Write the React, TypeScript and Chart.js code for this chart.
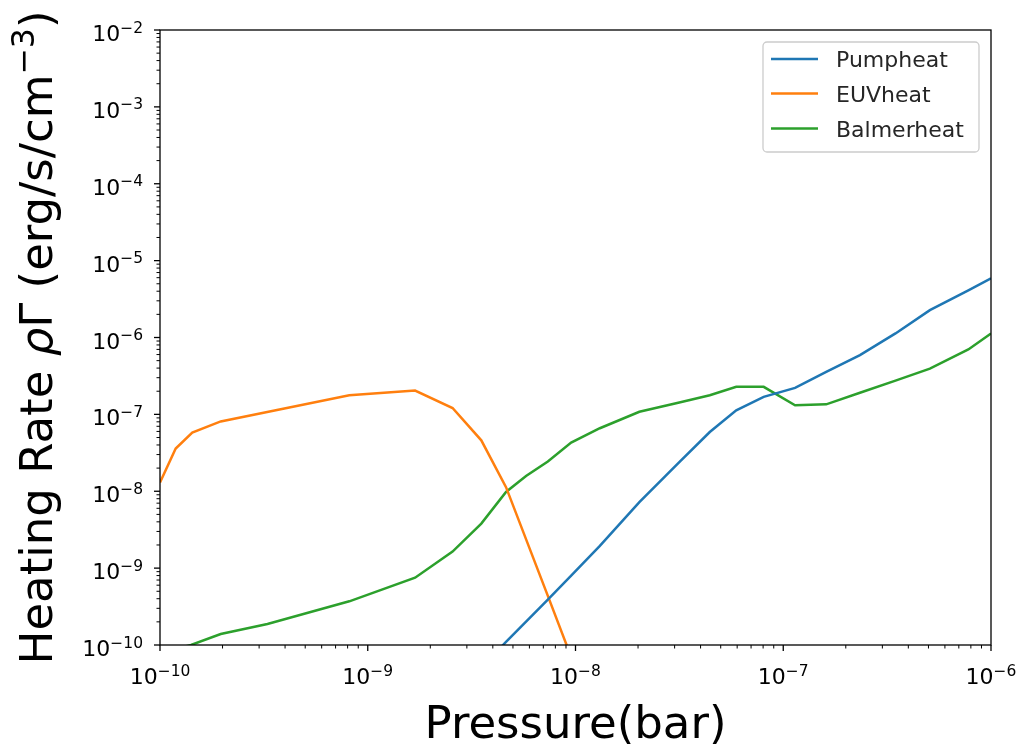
import React, { useEffect, useRef } from "react";
import { Chart, registerables } from "chart.js";

Chart.register(...registerables);

// ---- Data ----
const seriesLabels = ["Pumpheat", "EUVheat", "Balmerheat"];
const seriesColors = ["#1f77b4", "#ff7f0e", "#2ca02c"];

const pumpPressure = [3.52e-9, 4.63e-9, 7.36e-9, 9.53e-9, 1.31e-8, 2.03e-8, 3.16e-8, 4.43e-8, 5.94e-8, 8.05e-8, 1.14e-7, 1.61e-7, 2.34e-7, 3.47e-7, 5.08e-7, 7.78e-7, 1.0e-6];
const pumpHeat = [5.0e-11, 1.1e-10, 3.9e-10, 8.0e-10, 1.95e-9, 7.2e-9, 2.4e-8, 5.9e-8, 1.13e-7, 1.69e-7, 2.21e-7, 3.57e-7, 5.9e-7, 1.13e-6, 2.27e-6, 4.1e-6, 5.9e-6];

const euvPressure = [1.0e-10, 1.19e-10, 1.43e-10, 1.96e-10, 8.15e-10, 1.69e-9, 2.56e-9, 3.52e-9, 4.63e-9, 7.36e-9, 9.53e-9];
const euvHeat = [1.3e-8, 3.6e-8, 5.8e-8, 8.1e-8, 1.77e-7, 2.04e-7, 1.21e-7, 4.6e-8, 1.13e-8, 4.35e-10, 7.0e-11];

const balmerPressure = [1.0e-10, 1.19e-10, 1.41e-10, 1.96e-10, 3.29e-10, 8.15e-10, 1.69e-9, 2.56e-9, 3.52e-9, 4.63e-9, 5.78e-9, 7.36e-9, 9.53e-9, 1.31e-8, 2.03e-8, 3.16e-8, 4.43e-8, 5.94e-8, 8.05e-8, 1.14e-7, 1.61e-7, 2.34e-7, 3.47e-7, 5.08e-7, 7.78e-7, 1.0e-6];
const balmerHeat = [7.6e-11, 8.9e-11, 1.0e-10, 1.39e-10, 1.88e-10, 3.7e-10, 7.5e-10, 1.64e-9, 3.8e-9, 9.8e-9, 1.58e-8, 2.44e-8, 4.3e-8, 6.6e-8, 1.08e-7, 1.43e-7, 1.77e-7, 2.28e-7, 2.28e-7, 1.31e-7, 1.35e-7, 1.91e-7, 2.75e-7, 3.94e-7, 7.0e-7, 1.13e-6];

const xExponents = [-10, -9, -8, -7, -6];
const yExponents = [-10, -9, -8, -7, -6, -5, -4, -3, -2];
const xTitle = "Pressure(bar)";

const FONT = '"DejaVu Sans", "Noto Sans", sans-serif';
const MINUS = "\u2212";

function toPoints(xs: number[], ys: number[]) {
  return xs.map((x, i) => ({ x, y: ys[i] }));
}

const axesPlugin = {
  id: "mplAxes",
  afterDraw(chart: any) {
    const ctx: CanvasRenderingContext2D = chart.ctx;
    const area = chart.chartArea;
    const xs = chart.scales.x;
    const ys = chart.scales.y;
    ctx.save();
    ctx.strokeStyle = "#000";
    ctx.fillStyle = "#000";

    // spines
    ctx.lineWidth = 1.3;
    ctx.strokeRect(area.left, area.top, area.right - area.left, area.bottom - area.top);

    // ticks
    const drawTick = (x1: number, y1: number, x2: number, y2: number, w: number) => {
      ctx.lineWidth = w;
      ctx.beginPath();
      ctx.moveTo(x1, y1);
      ctx.lineTo(x2, y2);
      ctx.stroke();
    };
    for (let i = 0; i < xExponents.length; i++) {
      const e = xExponents[i];
      const px = xs.getPixelForValue(Math.pow(10, e));
      drawTick(px, area.bottom, px, area.bottom + 6, 1.3);
      if (i < xExponents.length - 1) {
        for (let m = 2; m <= 9; m++) {
          const mx = xs.getPixelForValue(m * Math.pow(10, e));
          drawTick(mx, area.bottom, mx, area.bottom + 3.5, 1);
        }
      }
    }
    for (let i = 0; i < yExponents.length; i++) {
      const e = yExponents[i];
      const py = ys.getPixelForValue(Math.pow(10, e));
      drawTick(area.left, py, area.left - 6, py, 1.3);
      if (i < yExponents.length - 1) {
        for (let m = 2; m <= 9; m++) {
          const my = ys.getPixelForValue(m * Math.pow(10, e));
          drawTick(area.left, my, area.left - 3.5, my, 1);
        }
      }
    }

    // tick labels
    const baseFont = `22px ${FONT}`;
    const supFont = `15.5px ${FONT}`;
    ctx.textBaseline = "alphabetic";
    for (const e of xExponents) {
      const px = xs.getPixelForValue(Math.pow(10, e));
      const sup = MINUS + Math.abs(e);
      ctx.font = baseFont;
      const wb = ctx.measureText("10").width;
      ctx.font = supFont;
      const ws = ctx.measureText(sup).width;
      const start = px - (wb + ws) / 2;
      ctx.textAlign = "left";
      ctx.font = baseFont;
      ctx.fillText("10", start, area.bottom + 38.5);
      ctx.font = supFont;
      ctx.fillText(sup, start + wb, area.bottom + 30.5);
    }
    for (const e of yExponents) {
      const py = ys.getPixelForValue(Math.pow(10, e));
      const sup = MINUS + Math.abs(e);
      ctx.font = supFont;
      const ws = ctx.measureText(sup).width;
      const xr = area.left - 17;
      ctx.textAlign = "right";
      ctx.fillText(sup, xr, py + 2.5);
      ctx.font = baseFont;
      ctx.fillText("10", xr - ws, py + 11);
    }

    // x title
    ctx.font = `45px ${FONT}`;
    ctx.textAlign = "center";
    ctx.fillText(xTitle, (area.left + area.right) / 2, 738);

    // y title (rotated, with math segments)
    const segs = [
      { t: "Heating Rate ", f: `45px ${FONT}`, dy: 0 },
      { t: "\u03c1", f: `italic 45px ${FONT}`, dy: 0 },
      { t: "\u0393", f: `45px ${FONT}`, dy: 0 },
      { t: " (erg/s/cm", f: `45px ${FONT}`, dy: 0 },
      { t: MINUS + "3", f: `31.5px ${FONT}`, dy: -18.5 },
      { t: ")", f: `45px ${FONT}`, dy: 0 },
    ];
    ctx.save();
    ctx.translate(52, (area.top + area.bottom) / 2);
    ctx.rotate(-Math.PI / 2);
    ctx.textAlign = "left";
    let total = 0;
    const widths = segs.map((s) => {
      ctx.font = s.f;
      const w = ctx.measureText(s.t).width;
      total += w;
      return w;
    });
    let cx = -total / 2;
    segs.forEach((s, i) => {
      ctx.font = s.f;
      ctx.fillText(s.t, cx, s.dy);
      cx += widths[i];
    });
    ctx.restore();

    // legend
    const lx = 763, ly = 42, lw = 216, lh = 110, r = 4;
    ctx.beginPath();
    ctx.moveTo(lx + r, ly);
    ctx.lineTo(lx + lw - r, ly);
    ctx.arcTo(lx + lw, ly, lx + lw, ly + r, r);
    ctx.lineTo(lx + lw, ly + lh - r);
    ctx.arcTo(lx + lw, ly + lh, lx + lw - r, ly + lh, r);
    ctx.lineTo(lx + r, ly + lh);
    ctx.arcTo(lx, ly + lh, lx, ly + lh - r, r);
    ctx.lineTo(lx, ly + r);
    ctx.arcTo(lx, ly, lx + r, ly, r);
    ctx.closePath();
    ctx.fillStyle = "rgba(255,255,255,0.8)";
    ctx.fill();
    ctx.strokeStyle = "#cccccc";
    ctx.lineWidth = 1.3;
    ctx.stroke();

    const dsets = chart.data.datasets;
    const rowY = [59, 93.5, 128.5];
    dsets.forEach((ds: any, i: number) => {
      const y = rowY[i];
      ctx.strokeStyle = ds.borderColor;
      ctx.lineWidth = 2.5;
      ctx.beginPath();
      ctx.moveTo(771, y);
      ctx.lineTo(818, y);
      ctx.stroke();
      ctx.fillStyle = "#262626";
      ctx.font = `22px ${FONT}`;
      ctx.textAlign = "left";
      ctx.fillText(ds.label, 836, y + 8);
    });

    ctx.restore();
  },
};

export default function App() {
  const canvasRef = useRef<HTMLCanvasElement | null>(null);

  useEffect(() => {
    if (!canvasRef.current) return;
    const seriesData = [
      toPoints(pumpPressure, pumpHeat),
      toPoints(euvPressure, euvHeat),
      toPoints(balmerPressure, balmerHeat),
    ];
    const chart = new Chart(canvasRef.current, {
      type: "line",
      data: {
        datasets: seriesData.map((d, i) => ({
          label: seriesLabels[i],
          data: d,
          borderColor: seriesColors[i],
          backgroundColor: seriesColors[i],
          borderWidth: 2.5,
          pointRadius: 0,
          tension: 0,
          fill: false,
        })),
      },
      options: {
        animation: false,
        responsive: false,
        devicePixelRatio: 1,
        layout: { padding: { left: 160, right: 33, top: 30, bottom: 104 } },
        plugins: { legend: { display: false }, tooltip: { enabled: false } },
        scales: {
          x: { type: "logarithmic", min: 1e-10, max: 1e-6, display: false },
          y: { type: "logarithmic", min: 1e-10, max: 1e-2, display: false },
        },
      },
      plugins: [axesPlugin],
    } as any);
    return () => chart.destroy();
  }, []);

  return (
    <div style={{ position: "fixed", left: 0, top: 0, width: 1024, height: 749, background: "#fff" }}>
      <canvas ref={canvasRef} width={1024} height={749} style={{ display: "block" }} />
    </div>
  );
}
